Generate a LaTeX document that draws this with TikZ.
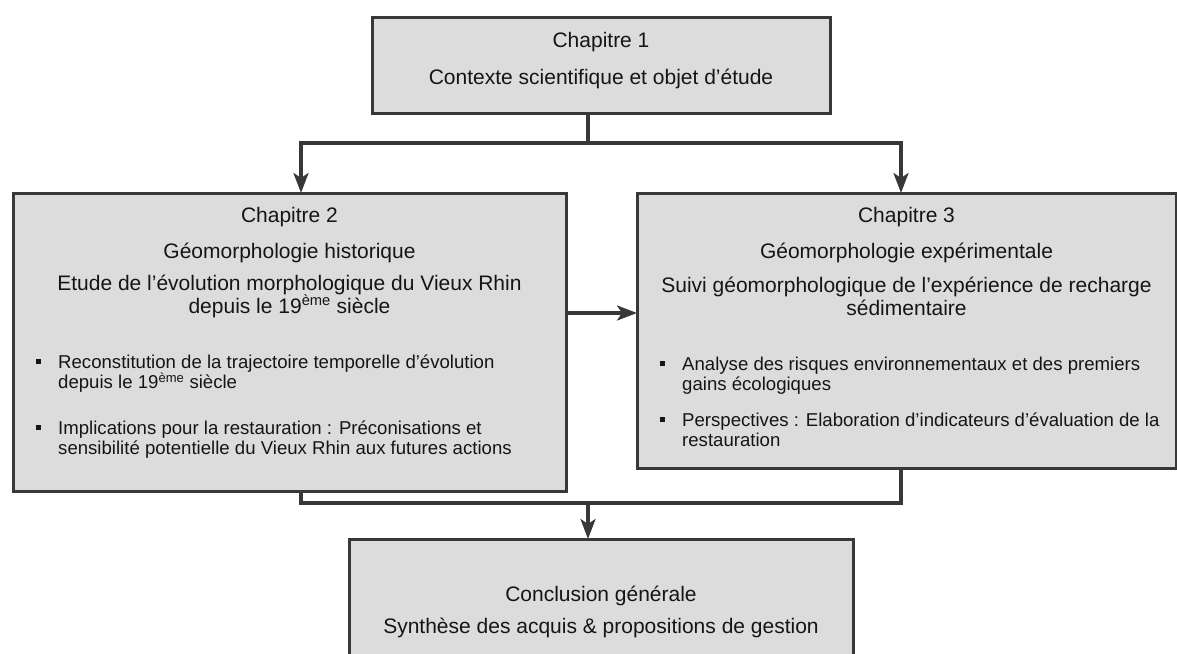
\documentclass[tikz,border=0pt]{standalone}
\usepackage{fontspec}
\setmainfont{Liberation Sans}
\usetikzlibrary{arrows.meta}
\definecolor{boxfill}{HTML}{DCDCDC}
\definecolor{edge}{HTML}{383838}
\definecolor{ink}{HTML}{151515}
\newcommand{\headfnt}{\fontsize{21}{23}\selectfont}
\newcommand{\bulfnt}{\fontsize{18.6}{20}\selectfont}
\newcommand{\sqbul}{\llap{\raisebox{4.5pt}{\rule{5pt}{5pt}}\hspace{17.5pt}}}
\newcommand{\eme}{\textsuperscript{ème}}
\tikzset{
  box/.style={draw=edge, fill=boxfill, line width=3pt, inner sep=0pt, outer sep=0pt},
  conn/.style={draw=edge, line width=3.2pt},
  arr/.style={conn, -{Stealth[length=20pt,width=15pt,inset=5pt]}},
  head/.style={text=ink, font=\headfnt, align=center, inner sep=0pt},
  bul/.style={text=ink, font=\bulfnt, align=left, inner sep=0pt, anchor=west}
}
\begin{document}
\begin{tikzpicture}[x=1pt,y=-1pt]
\clip (0,0) rectangle (1177,653);
\fill[white] (0,0) rectangle (1177,653);
% boxes
\node[box, minimum width=458pt, minimum height=96pt] (c1) at (601,65) {};
\node[box, minimum width=553pt, minimum height=298pt] (c2) at (289.5,342) {};
\node[box, minimum width=539pt, minimum height=275pt] (c3) at (906.5,330.5) {};
\node[box, minimum width=504pt, minimum height=161pt] (c4) at (601,619.5) {};
% junctions
\coordinate (j1) at (588,143);
\coordinate (jl) at (301,143);
\coordinate (jr) at (901,143);
\coordinate (h) at (600,313);
\coordinate (jb) at (588,503);
% connectors
\draw[conn] (c1.south -| j1) -- (j1);
\draw[arr] (j1) -| (c2.north -| jl);
\draw[arr] (j1) -| (c3.north -| jr);
\draw[arr] (c2.east |- h) -- (c3.west |- h);
\draw[conn] (c2.south -| jl) |- (jb -| jr) -- (c3.south -| jr);
\draw[arr] (jb) -- (c4.north -| jb);
% texts chapter 1
\node[head] (t1a) at (601,42) {Chapitre 1};
\node[head] (t1b) at (601,79) {Contexte scientifique et objet d’étude};
% chapter 2
\node[head] (t2a) at (289.5,217) {Chapitre 2};
\node[head] (t2b) at (289.5,253) {Géomorphologie historique};
\node[head] (t2c) at (289.5,296) {Etude de l’évolution morphologique du Vieux Rhin\\depuis le 19\eme{} siècle};
\node[bul] (b2a) at (58,374) {\sqbul Reconstitution de la trajectoire temporelle d’évolution\\depuis le 19\eme{} siècle};
\node[bul] (b2b) at (58,440) {\sqbul Implications pour la restauration : Préconisations et\\sensibilité potentielle du Vieux Rhin aux futures actions};
% chapter 3
\node[head] (t3a) at (906.5,217) {Chapitre 3};
\node[head] (t3b) at (906.5,253) {Géomorphologie expérimentale};
\node[head] (t3c) at (906.5,296) {Suivi géomorphologique de l’expérience de recharge\\sédimentaire};
\node[bul] (b3a) at (682,376) {\sqbul Analyse des risques environnementaux et des premiers\\gains écologiques};
\node[bul] (b3b) at (682,430) {\sqbul Perspectives : Elaboration d’indicateurs d’évaluation de la\\restauration};
% conclusion
\node[head] (t4a) at (601,596) {Conclusion générale};
\node[head] (t4b) at (601,628) {Synthèse des acquis \& propositions de gestion};
\end{tikzpicture}
\end{document}
